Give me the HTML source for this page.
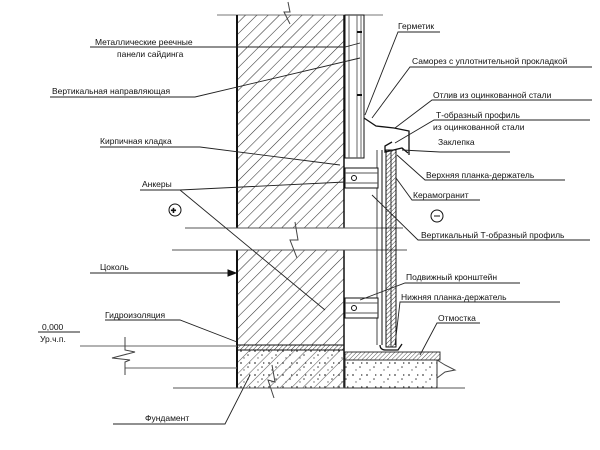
<!DOCTYPE html>
<html><head><meta charset="utf-8"><style>
html,body{margin:0;padding:0;background:#fff;}
svg{display:block;}
text{font-family:"Liberation Sans","DejaVu Sans",sans-serif;font-size:8.5px;fill:#111;}
</style></head><body>
<svg width="600" height="450" viewBox="0 0 600 450" xmlns="http://www.w3.org/2000/svg">
<defs>
<pattern id="h" width="8" height="8" patternUnits="userSpaceOnUse" patternTransform="rotate(45)">
<line x1="0" y1="0" x2="0" y2="8" stroke="#333" stroke-width="1.1"/></pattern>
<pattern id="hs" width="3" height="3" patternUnits="userSpaceOnUse" patternTransform="rotate(45)">
<line x1="0" y1="0" x2="0" y2="3" stroke="#222" stroke-width="0.9"/></pattern>
<pattern id="c" width="14" height="12" patternUnits="userSpaceOnUse">
<circle cx="3" cy="3" r="0.9" fill="#444"/><circle cx="10" cy="7" r="0.8" fill="#444"/><circle cx="6" cy="10" r="0.7" fill="#666"/><path d="M11 2 l2 1 l-2 1z" fill="#555"/></pattern>
</defs>
<g stroke="#111" fill="none" stroke-width="1">
<line x1="217" y1="15" x2="383" y2="15" stroke="#777"/>
<polyline points="288,2 290,12 284,12 290,24" stroke="#444"/>
<rect x="237" y="15" width="107" height="213" fill="url(#h)" stroke="none"/>
<line x1="237" y1="15" x2="237" y2="228" stroke-width="2"/>
<line x1="344" y1="15" x2="344" y2="228" stroke-width="1.5"/>
<rect x="237" y="250" width="107" height="95" fill="url(#h)" stroke="none"/>
<line x1="237" y1="250" x2="237" y2="388" stroke-width="2"/>
<line x1="344" y1="250" x2="344" y2="388" stroke-width="1.5"/>
<line x1="185" y1="228" x2="403" y2="228" stroke="#555"/>
<line x1="172" y1="250" x2="407" y2="250" stroke="#555"/>
<polyline points="295,222 298,240 290,240 297,258" stroke="#444"/>
<rect x="237" y="345" width="107" height="5" fill="url(#hs)" stroke="#111"/>
<rect x="238" y="350" width="106" height="38" fill="url(#h)" stroke="none" opacity="0.8"/>
<rect x="238" y="350" width="106" height="38" fill="url(#c)" stroke="none"/>
<polyline points="272,365 275,382 268,380 274,398" stroke="#444"/>
<line x1="173" y1="388" x2="465" y2="388" stroke="#555"/>
<line x1="80" y1="346" x2="237" y2="346" stroke="#666"/>
<line x1="125" y1="368" x2="237" y2="368" stroke="#666"/>
<polyline points="125,337 125,350 135,352 112,358 130,360 125,362 125,375" stroke="#444"/>
<rect x="345" y="352" width="95" height="8" fill="url(#hs)" stroke="#111" opacity="0.85"/>
<rect x="345" y="360" width="92" height="28" fill="url(#c)" stroke="#333"/>
<polyline points="437,360 445,365 455,370 445,372 437,378" stroke="#444"/>
<rect x="345" y="15" width="19" height="143" fill="#fff"/>
<line x1="349" y1="15" x2="349" y2="158" stroke="#666"/>
<line x1="357" y1="15" x2="357" y2="158" stroke="#666"/>
<line x1="361" y1="15" x2="361" y2="158" stroke="#666"/>
<line x1="357" y1="32" x2="362" y2="32" stroke-width="2"/>
<line x1="357" y1="95" x2="362" y2="95" stroke-width="2"/>
<polyline points="364,118 376,126 394,128 409,131 409,155" stroke-width="1.3"/>
<polyline points="392,142 385,146 385,152 402,148 408,153" stroke-width="1.3"/>
<line x1="377" y1="150" x2="377" y2="345" stroke="#444"/>
<line x1="382" y1="150" x2="382" y2="345"/>
<rect x="386" y="150" width="10" height="197" fill="url(#hs)" stroke="#111"/>
<line x1="391" y1="150" x2="391" y2="347" stroke="#333"/>
<path d="M380 345 q0 5 6 5 h12 l4 -6" stroke-width="1.3"/>
<rect x="345" y="168" width="33" height="20" fill="#fff"/>
<line x1="345" y1="173" x2="378" y2="173" stroke="#555"/>
<line x1="345" y1="183" x2="378" y2="183" stroke="#555"/>
<circle cx="354" cy="178" r="2.5"/>
<rect x="345" y="298" width="33" height="20" fill="#fff"/>
<line x1="345" y1="303" x2="378" y2="303" stroke="#555"/>
<line x1="345" y1="313" x2="378" y2="313" stroke="#555"/>
<circle cx="354" cy="308" r="2.5"/>
<circle cx="175" cy="210" r="6"/><text x="171" y="213" font-size="8">+</text>
<circle cx="437" cy="216" r="6"/><line x1="434" y1="216" x2="440" y2="216"/>
<g stroke="#222" stroke-width="0.9">
<polyline points="90,47 345,47 360,43"/>
<polyline points="50,97 195,97 360,58"/>
<polyline points="100,147 200,147 340,165"/>
<polyline points="140,190 180,190 345,182"/>
<polyline points="180,190 325,310"/>
<line x1="90" y1="273" x2="235" y2="273"/>
<polyline points="105,320 180,320 237,342"/>
<polyline points="38,332 80,332"/>
<polyline points="113,424 225,424 250,375"/>
<polyline points="440,32 398,32 365,115"/>
<polyline points="592,67 410,67 372,118"/>
<polyline points="592,100 432,100 395,128"/>
<polyline points="590,120 434,120 395,143"/>
<polyline points="510,152 440,152 402,150"/>
<polyline points="565,180 425,180 397,155"/>
<polyline points="480,200 412,200 396,178"/>
<polyline points="590,240 418,240 372,195"/>
<polyline points="520,283 405,283 360,300"/>
<polyline points="560,302 400,302 395,345"/>
<polyline points="480,323 437,323 420,355"/>
</g>
<path d="M228 270 l8 3 l-8 3z" fill="#111"/>
</g>
<text x="398" y="29">Герметик</text>
<text x="95" y="45">Металлические реечные</text>
<text x="117" y="57">панели сайдинга</text>
<text x="52" y="94">Вертикальная направляющая</text>
<text x="412" y="64">Саморез с уплотнительной прокладкой</text>
<text x="433" y="98">Отлив из оцинкованной стали</text>
<text x="436" y="118">Т-образный профиль</text>
<text x="433" y="130">из оцинкованной стали</text>
<text x="438" y="145">Заклепка</text>
<text x="100" y="144">Кирпичная кладка</text>
<text x="426" y="178">Верхняя планка-держатель</text>
<text x="142" y="187">Анкеры</text>
<text x="413" y="198">Керамогранит</text>
<text x="421" y="238">Вертикальный Т-образный профиль</text>
<text x="100" y="270">Цоколь</text>
<text x="406" y="280">Подвижный кронштейн</text>
<text x="401" y="300">Нижняя планка-держатель</text>
<text x="105" y="318">Гидроизоляция</text>
<text x="438" y="321">Отмостка</text>
<text x="42" y="330">0,000</text>
<text x="40" y="342">Ур.ч.п.</text>
<text x="145" y="421">Фундамент</text>
</svg>
</body></html>
